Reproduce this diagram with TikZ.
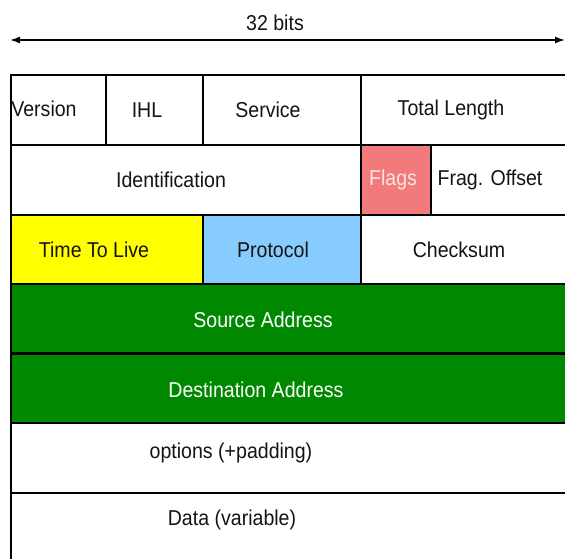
\documentclass[tikz,border=0pt]{standalone}
\usepackage{fontspec}
\setmainfont[FakeStretch=0.91]{Liberation Sans}
\usetikzlibrary{arrows.meta}
\definecolor{ipgreen}{RGB}{0,136,0}
\definecolor{ipyellow}{RGB}{255,255,0}
\definecolor{ipblue}{RGB}{135,204,255}
\definecolor{ippink}{RGB}{242,122,122}
\definecolor{ipflagtxt}{RGB}{255,228,228}
\definecolor{iptext}{RGB}{20,20,20}
\begin{document}
\begin{tikzpicture}[x=1pt,y=-1pt,
  cell/.style={draw=black, line width=1.6pt, inner sep=0pt, anchor=north west, minimum height=70pt},
  lbl/.style={font=\fontsize{21.5}{24}\selectfont, inner sep=0pt, text=iptext},
  wlbl/.style={lbl, text=white}]
\useasboundingbox (0,0) rectangle (565,559);
\fill[white] (0,0) rectangle (565,559);
\clip (0,0) rectangle (565,559);

% width arrow
\node[lbl] (bits) at (275,23) {32 bits};
\coordinate (al) at (10,40);
\coordinate (ar) at (565,40);
\draw[line width=1.6pt, {Latex[length=10pt,width=7pt]}-{Latex[length=10pt,width=7pt]}] (al) -- (ar);

% row 1
\node[cell, minimum width=95pt]  (ver) at (10,74) {};
\node[cell, minimum width=97pt]  (ihl) at (105,74) {};
\node[cell, minimum width=158pt] (svc) at (202,74) {};
\node[cell, minimum width=240pt] (tot) at (360,74) {};
% row 2
\node[cell, minimum width=350pt] (ident) at (10,144) {};
\node[cell, minimum width=70pt, fill=ippink] (flags) at (360,144) {};
\node[cell, minimum width=170pt] (frag) at (430,144) {};
% row 3
\node[cell, minimum width=192pt, fill=ipyellow] (ttl) at (10,214) {};
\node[cell, minimum width=158pt, fill=ipblue] (proto) at (202,214) {};
\node[cell, minimum width=240pt] (chk) at (360,214) {};
% rows 4-7
\node[cell, minimum width=590pt, minimum height=69pt, fill=ipgreen] (src) at (10,283) {};
\node[cell, minimum width=590pt, minimum height=69pt, fill=ipgreen] (dst) at (10,353) {};
\node[cell, minimum width=590pt, minimum height=70pt] (opt) at (10,422) {};
\node[cell, minimum width=590pt, minimum height=100pt] (data) at (10,492) {};

% labels
\node[lbl] (tver) at (44,109) {Version};
\node[lbl] (tihl) at (147,110) {IHL};
\node[lbl] (tsvc) at (268,110) {Service};
\node[lbl] (ttot) at (451,110) {Total Length};
\node[lbl] (tident) at (171,180) {Identification};
\node[lbl, text=ipflagtxt] (tflags) at (393,180) {Flags};
\node[lbl] (tfrag) at (490,180) {Frag. Offset};
\node[lbl] (tttl) at (94,250) {Time To Live};
\node[lbl] (tproto) at (273,250) {Protocol};
\node[lbl] (tchk) at (459,250) {Checksum};
\node[wlbl] (tsrc) at (263,320) {Source Address};
\node[wlbl] (tdst) at (256,390) {Destination Address};
\node[lbl] (topt) at (231,453) {options (+padding)};
\node[lbl] (tdata) at (232,520) {Data (variable)};
\end{tikzpicture}
\end{document}
